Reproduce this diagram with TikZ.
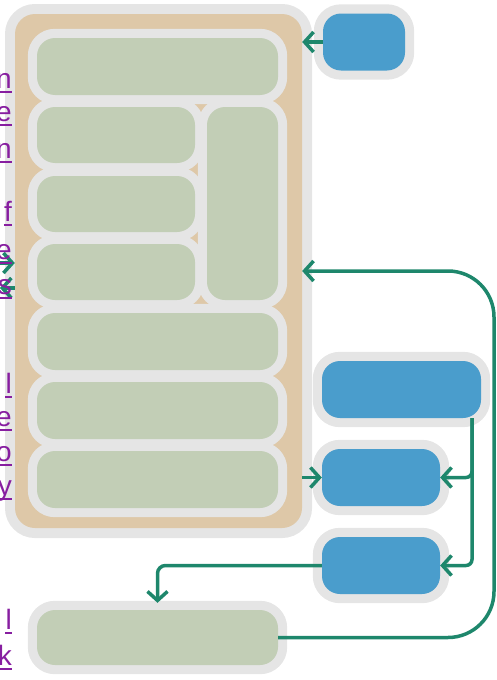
\documentclass[tikz,border=0pt]{standalone}
\usepackage{fontspec}
\setmainfont{Liberation Sans}
\usetikzlibrary{arrows.meta,calc}
\definecolor{haloGray}{RGB}{229,229,229}
\definecolor{frameTan}{RGB}{222,200,168}
\definecolor{boxGreen}{RGB}{194,206,182}
\definecolor{boxBlue}{RGB}{74,157,204}
\definecolor{linkTeal}{RGB}{30,135,108}
\definecolor{linkPurple}{RGB}{135,30,160}
\pgfdeclarelayer{framelayer}
\pgfdeclarelayer{halolayer}
\pgfsetlayers{framelayer,halolayer,main}
\tikzset{
  gbox/.style={fill=boxGreen,rounded corners=18pt,minimum width=241pt,minimum height=57pt,inner sep=0pt},
  bbox/.style={fill=boxBlue,rounded corners=18pt,minimum height=57pt,inner sep=0pt},
  halo/.style={fill=haloGray,rounded corners=27pt},
  flow/.style={draw=linkTeal,line width=3.5pt,-{Straight Barb[length=9pt,width=20pt,line width=3.5pt]}},
  linkcut/.style={font=\fontsize{28}{32}\selectfont,text=linkPurple,anchor=base east,inner sep=0pt}
}

\begin{document}
\begin{tikzpicture}[x=1pt,y=-1pt]
  \useasboundingbox (0,0) rectangle (497,680);
  \begin{pgfonlayer}{framelayer}
    \node[fill=frameTan,rounded corners=20pt,minimum width=287pt,minimum height=514pt,inner sep=0pt,
          preaction={draw=haloGray,line width=20pt}] (frame) at (158.5,271) {};
  \end{pgfonlayer}

  \node[gbox] (g1) at (157.5,66.5) {};
  \node[gbox,minimum width=158pt,minimum height=56pt] (g2) at (116,135) {};
  \node[gbox,minimum width=158pt,minimum height=56pt] (g3) at (116,204) {};
  \node[gbox,minimum width=158pt,minimum height=56pt] (g4) at (116,272) {};
  \node[gbox,minimum width=71pt,minimum height=193pt] (g5) at (242.5,203.5) {};
  \node[gbox] (g6) at (157.5,341.5) {};
  \node[gbox] (g7) at (157.5,410.5) {};
  \node[gbox] (g8) at (157.5,479.5) {};
  \node[gbox,minimum height=55pt] (g9) at (157.5,637.5) {};

  \node[bbox,minimum width=82pt] (b1) at (364,42) {};
  \node[bbox,minimum width=159pt] (b2) at (401.5,389.5) {};
  \node[bbox,minimum width=118pt] (b3) at (381,477.5) {};
  \node[bbox,minimum width=118pt] (b4) at (381,565.5) {};

  \begin{pgfonlayer}{halolayer}
    \foreach \b in {g1,g2,g3,g4,g5,g6,g7,g8,g9,b1,b2,b3,b4}
      \fill[halo] ([shift={(-9pt,9pt)}]\b.north west) rectangle ([shift={(9pt,-9pt)}]\b.south east);
  \end{pgfonlayer}

  \coordinate (spine) at (472,0);
  \coordinate (loopR) at (494,0);
  \coordinate (inL) at (-20,263);
  \coordinate (outL) at (0,288);
  \draw[flow] (b1.west) -- (b1.west -| frame.east);
  \draw[flow] (inL) -- (inL -| frame.west);
  \draw[flow] (outL -| frame.west) -- (outL);
  \draw[flow,rounded corners=46pt] (g9.east) -- (g9.east -| loopR) -- (loopR |- frame.east) -- (frame.east);
  \draw[flow] (b3.west -| frame.east) -- (b3.west);
  \draw[flow,rounded corners=6pt] (b2.south -| spine) |- (b3.east);
  \draw[flow,rounded corners=6pt] (b2.south -| spine) |- (b4.east);
  \draw[flow,rounded corners=8pt,shorten >=7pt] (b4.west) -| (g9.north);

  \foreach \ch/\y in {n/88,e/121,n/158,f/221,e/259,s/294,l/393,e/426,o/461,y/495,l/629,k/665} {
    \node[linkcut] (w\y) at (12,\y) {\ch};
    \draw[linkPurple,line width=2pt] ([yshift=-3.5pt]w\y.base west) -- ([yshift=-3.5pt]w\y.base east);
  }
\end{tikzpicture}
\end{document}
